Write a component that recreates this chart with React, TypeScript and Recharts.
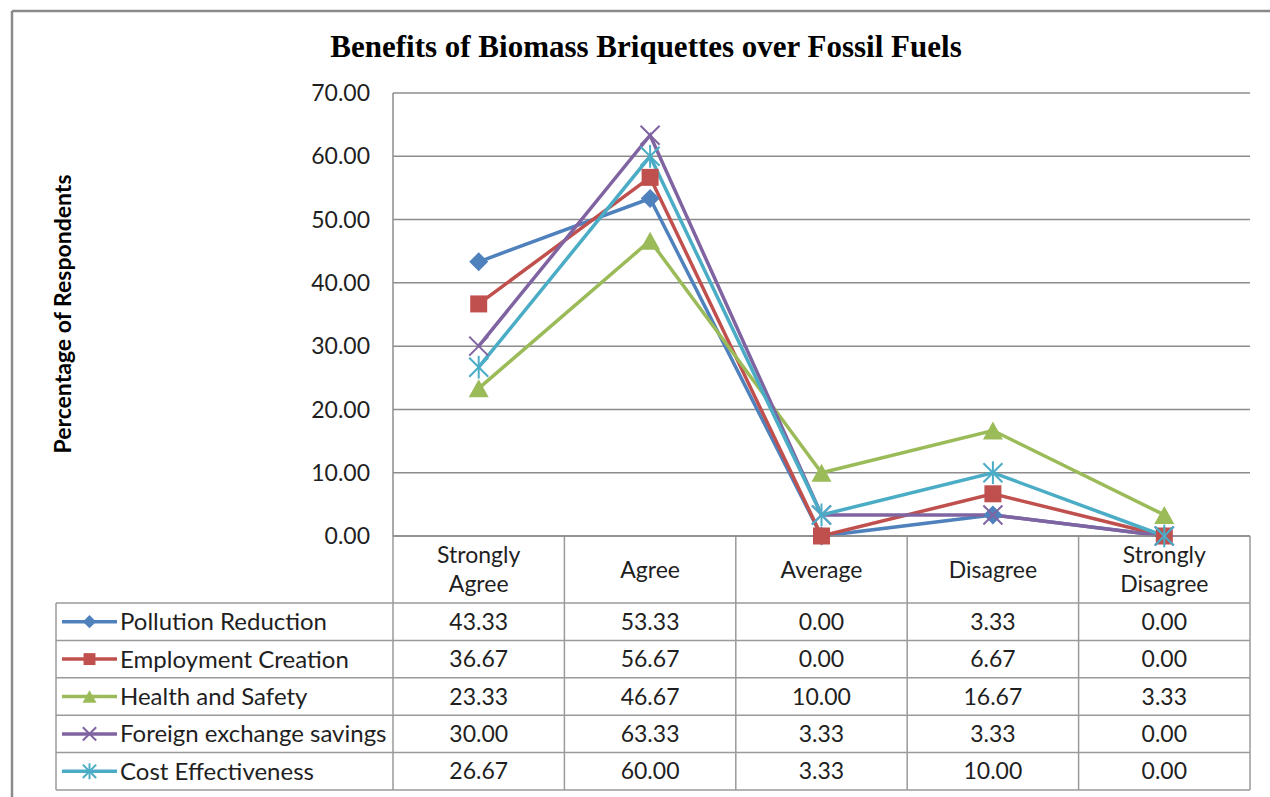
import React from "react"
import { ComposedChart, Line, XAxis, YAxis, CartesianGrid } from "recharts"

const categories = ["Strongly\nAgree", "Agree", "Average", "Disagree", "Strongly\nDisagree"]
const pollutionReduction = [43.33, 53.33, 0.0, 3.33, 0.0]
const employmentCreation = [36.67, 56.67, 0.0, 6.67, 0.0]
const healthAndSafety = [23.33, 46.67, 10.0, 16.67, 3.33]
const foreignExchangeSavings = [30.0, 63.33, 3.33, 3.33, 0.0]
const costEffectiveness = [26.67, 60.0, 3.33, 10.0, 0.0]
const yTicks = [0, 10, 20, 30, 40, 50, 60, 70]

type Shape = "diamond" | "square" | "triangle" | "cross" | "star"

const series: { key: string; name: string; color: string; shape: Shape; values: number[] }[] = [
  { key: "pollution", name: "Pollution Reduction", color: "#4F81BD", shape: "diamond", values: pollutionReduction },
  { key: "employment", name: "Employment Creation", color: "#C0504D", shape: "square", values: employmentCreation },
  { key: "health", name: "Health and Safety", color: "#9BBB59", shape: "triangle", values: healthAndSafety },
  { key: "foreign", name: "Foreign exchange savings", color: "#8064A2", shape: "cross", values: foreignExchangeSavings },
  { key: "cost", name: "Cost Effectiveness", color: "#4BACC6", shape: "star", values: costEffectiveness },
]

const data = categories.map((cat, i) => {
  const row: Record<string, string | number> = { cat }
  series.forEach((s) => (row[s.key] = s.values[i]))
  return row
})

// page layout (px)
const W = 1270
const H = 797
const PLOT_LEFT = 393
const PLOT_RIGHT = 1250
const PLOT_TOP = 93
const PLOT_BOTTOM = 536
const HEADER_BOTTOM = 603
const TABLE_BOTTOM = 790
const LEGEND_LEFT = 56
const Y_AXIS_W = 100
const FONT = 'Lato, "Open Sans", sans-serif'
const FS = 23
const TEXT = "#1f1f1f"
const RULE = "#9a9a9a"

const colW = (PLOT_RIGHT - PLOT_LEFT) / categories.length
const rowH = (TABLE_BOTTOM - HEADER_BOTTOM) / series.length

function Marker({ shape, color, cx, cy, s = 1 }: { shape: Shape; color: string; cx: number; cy: number; s?: number }) {
  switch (shape) {
    case "diamond": {
      const r = 9.5 * s
      return <polygon points={`${cx},${cy - r} ${cx + r},${cy} ${cx},${cy + r} ${cx - r},${cy}`} fill={color} />
    }
    case "square": {
      const r = 8.5 * s
      return <rect x={cx - r} y={cy - r} width={2 * r} height={2 * r} fill={color} />
    }
    case "triangle": {
      const w = 10 * s
      const h = 9 * s
      return <polygon points={`${cx},${cy - h} ${cx + w},${cy + h} ${cx - w},${cy + h}`} fill={color} />
    }
    case "cross": {
      const r = 9.5 * s
      return (
        <g stroke={color} strokeWidth={2}>
          <line x1={cx - r} y1={cy - r} x2={cx + r} y2={cy + r} />
          <line x1={cx - r} y1={cy + r} x2={cx + r} y2={cy - r} />
        </g>
      )
    }
    case "star": {
      const r = 9.5 * s
      return (
        <g stroke={color} strokeWidth={2}>
          <line x1={cx - r} y1={cy - r} x2={cx + r} y2={cy + r} />
          <line x1={cx - r} y1={cy + r} x2={cx + r} y2={cy - r} />
          <line x1={cx} y1={cy - r * 1.2} x2={cx} y2={cy + r * 1.2} />
        </g>
      )
    }
  }
}

const CategoryTick = (props: any) => {
  const { x, y, payload } = props
  const lines = String(payload.value).split("\n")
  const mid = y + (HEADER_BOTTOM - PLOT_BOTTOM) / 2
  const start = mid - ((lines.length - 1) * 29) / 2
  return (
    <text x={x} textAnchor="middle" fontFamily={FONT} fontSize={FS} fill={TEXT}>
      {lines.map((l, i) => (
        <tspan key={i} x={x} y={start + i * 29} dy="0.35em">
          {l}
        </tspan>
      ))}
    </text>
  )
}

// data table under the plot: header separators, legend keys and values
function DataTable() {
  const cols = categories.map((_, i) => PLOT_LEFT + i * colW)
  return (
    <svg width={W} height={H} style={{ position: "absolute", left: 0, top: 0 }}>
      <line x1={12} y1={11} x2={W} y2={11} stroke="#8a8a8a" strokeWidth={2.5} />
      <line x1={12} y1={11} x2={12} y2={H} stroke="#8a8a8a" strokeWidth={2.5} />
      <text x={646} y={57} textAnchor="middle" fontFamily='"Liberation Serif", "Times New Roman", serif' fontWeight="bold" fontSize={31} fill="#000">
        Benefits of Biomass Briquettes over Fossil Fuels
      </text>
      <text
        x={62}
        y={314}
        transform="rotate(-90 62 314)"
        textAnchor="middle"
        dominantBaseline="central"
        fontFamily={FONT}
        fontWeight="bold"
        fontSize={23}
        fill="#000"
      >
        Percentage of Respondents
      </text>
      <g stroke={RULE} strokeWidth={1.5}>
        {cols.map((x, i) => (
          <line key={i} x1={x} y1={PLOT_BOTTOM} x2={x} y2={TABLE_BOTTOM} />
        ))}
        <line x1={PLOT_RIGHT} y1={PLOT_BOTTOM} x2={PLOT_RIGHT} y2={TABLE_BOTTOM} />
        <line x1={LEGEND_LEFT} y1={HEADER_BOTTOM} x2={LEGEND_LEFT} y2={TABLE_BOTTOM} />
        {series.map((_, r) => (
          <line key={r} x1={LEGEND_LEFT} y1={HEADER_BOTTOM + r * rowH} x2={PLOT_RIGHT} y2={HEADER_BOTTOM + r * rowH} />
        ))}
        <line x1={LEGEND_LEFT} y1={TABLE_BOTTOM} x2={PLOT_RIGHT} y2={TABLE_BOTTOM} />
      </g>
      {series.map((s, r) => {
        const cy = HEADER_BOTTOM + (r + 0.5) * rowH
        return (
          <g key={s.key}>
            <line x1={62} y1={cy} x2={117} y2={cy} stroke={s.color} strokeWidth={3.5} />
            <Marker shape={s.shape} color={s.color} cx={89.5} cy={cy} s={0.7} />
            <text x={120} y={cy} dy="0.35em" fontFamily={FONT} fontSize={24} fill={TEXT}>
              {s.name}
            </text>
            {s.values.map((v, i) => (
              <text key={i} x={cols[i] + colW / 2} y={cy} dy="0.35em" textAnchor="middle" fontFamily={FONT} fontSize={FS} fill={TEXT}>
                {v.toFixed(2)}
              </text>
            ))}
          </g>
        )
      })}
    </svg>
  )
}

export default function App() {
  return (
    <div style={{ position: "absolute", left: 0, top: 0, width: W, height: H, background: "#fff" }}>
      <DataTable />
      <div style={{ position: "absolute", left: 0, top: 0 }}>
        <ComposedChart
          width={W}
          height={H}
          data={data}
          margin={{ top: PLOT_TOP, right: W - PLOT_RIGHT, bottom: H - HEADER_BOTTOM, left: PLOT_LEFT - Y_AXIS_W }}
        >
          <CartesianGrid vertical={false} stroke="#8c8c8c" strokeWidth={1.5} />
          <XAxis
            dataKey="cat"
            scale="band"
            height={HEADER_BOTTOM - PLOT_BOTTOM}
            tickLine={false}
            tickSize={0}
            tickMargin={0}
            axisLine={{ stroke: "#8c8c8c", strokeWidth: 1.5 }}
            tick={<CategoryTick />}
            interval={0}
          />
          <YAxis
            width={Y_AXIS_W}
            domain={[0, 70]}
            ticks={yTicks}
            tickFormatter={(v: number) => v.toFixed(2)}
            tickLine={false}
            tickSize={0}
            tickMargin={23}
            axisLine={{ stroke: "#8c8c8c", strokeWidth: 1.5 }}
            tick={{ fontFamily: FONT, fontSize: FS, fill: TEXT }}
          />
          {series.map((s) => (
            <Line
              key={s.key}
              dataKey={s.key}
              name={s.name}
              stroke={s.color}
              strokeWidth={3.5}
              isAnimationActive={false}
              dot={(p: any) => <Marker key={`${s.key}-${p.index}`} shape={s.shape} color={s.color} cx={p.cx} cy={p.cy} />}
              activeDot={false}
            />
          ))}
        </ComposedChart>
      </div>
    </div>
  )
}
